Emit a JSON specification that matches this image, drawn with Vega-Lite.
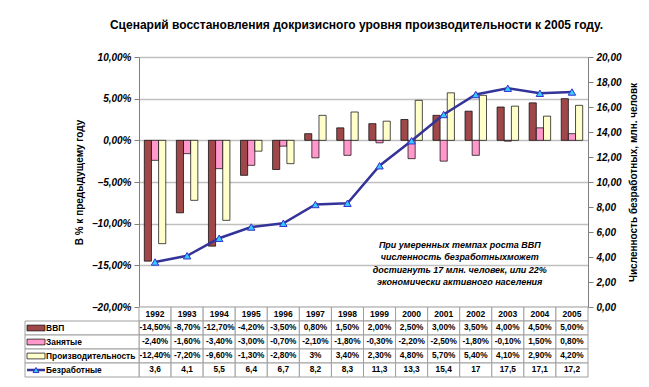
{
  "$schema": "https://vega.github.io/schema/vega-lite/v6.json",
  "width": 563,
  "height": 320,
  "autosize": {"type": "none"},
  "padding": {"left": 25, "top": 57, "right": 61, "bottom": 10},
  "title": {"text": "Сценарий восстановления докризисного уровня производительности к 2005 году.", "font": "Liberation Sans", "fontSize": 12, "fontWeight": "bold", "anchor": "middle", "frame": "group", "dx": 50, "offset": 20, "color": "#000000"},
  "config": {
    "view": {"stroke": null},
    "font": "Liberation Sans",
    "locale": {"number": {"decimal": ",", "thousands": " ", "grouping": [3], "currency": ["", ""]}}
  },
  "datasets": {
    "d": [
      {"year": "1992", "series": "ВВП", "value": -0.145, "txt": "-14,50%"},
      {"year": "1993", "series": "ВВП", "value": -0.087, "txt": "-8,70%"},
      {"year": "1994", "series": "ВВП", "value": -0.127, "txt": "-12,70%"},
      {"year": "1995", "series": "ВВП", "value": -0.042, "txt": "-4,20%"},
      {"year": "1996", "series": "ВВП", "value": -0.035, "txt": "-3,50%"},
      {"year": "1997", "series": "ВВП", "value": 0.008, "txt": "0,80%"},
      {"year": "1998", "series": "ВВП", "value": 0.015, "txt": "1,50%"},
      {"year": "1999", "series": "ВВП", "value": 0.02, "txt": "2,00%"},
      {"year": "2000", "series": "ВВП", "value": 0.025, "txt": "2,50%"},
      {"year": "2001", "series": "ВВП", "value": 0.03, "txt": "3,00%"},
      {"year": "2002", "series": "ВВП", "value": 0.035, "txt": "3,50%"},
      {"year": "2003", "series": "ВВП", "value": 0.04, "txt": "4,00%"},
      {"year": "2004", "series": "ВВП", "value": 0.045, "txt": "4,50%"},
      {"year": "2005", "series": "ВВП", "value": 0.05, "txt": "5,00%"},
      {"year": "1992", "series": "Занятые", "value": -0.024, "txt": "-2,40%"},
      {"year": "1993", "series": "Занятые", "value": -0.016, "txt": "-1,60%"},
      {"year": "1994", "series": "Занятые", "value": -0.034, "txt": "-3,40%"},
      {"year": "1995", "series": "Занятые", "value": -0.03, "txt": "-3,00%"},
      {"year": "1996", "series": "Занятые", "value": -0.007, "txt": "-0,70%"},
      {"year": "1997", "series": "Занятые", "value": -0.021, "txt": "-2,10%"},
      {"year": "1998", "series": "Занятые", "value": -0.018, "txt": "-1,80%"},
      {"year": "1999", "series": "Занятые", "value": -0.003, "txt": "-0,30%"},
      {"year": "2000", "series": "Занятые", "value": -0.022, "txt": "-2,20%"},
      {"year": "2001", "series": "Занятые", "value": -0.025, "txt": "-2,50%"},
      {"year": "2002", "series": "Занятые", "value": -0.018, "txt": "-1,80%"},
      {"year": "2003", "series": "Занятые", "value": -0.001, "txt": "-0,10%"},
      {"year": "2004", "series": "Занятые", "value": 0.015, "txt": "1,50%"},
      {"year": "2005", "series": "Занятые", "value": 0.008, "txt": "0,80%"},
      {"year": "1992", "series": "Производительность", "value": -0.124, "txt": "-12,40%"},
      {"year": "1993", "series": "Производительность", "value": -0.072, "txt": "-7,20%"},
      {"year": "1994", "series": "Производительность", "value": -0.096, "txt": "-9,60%"},
      {"year": "1995", "series": "Производительность", "value": -0.013, "txt": "-1,30%"},
      {"year": "1996", "series": "Производительность", "value": -0.028, "txt": "-2,80%"},
      {"year": "1997", "series": "Производительность", "value": 0.03, "txt": "3%"},
      {"year": "1998", "series": "Производительность", "value": 0.034, "txt": "3,40%"},
      {"year": "1999", "series": "Производительность", "value": 0.023, "txt": "2,30%"},
      {"year": "2000", "series": "Производительность", "value": 0.048, "txt": "4,80%"},
      {"year": "2001", "series": "Производительность", "value": 0.057, "txt": "5,70%"},
      {"year": "2002", "series": "Производительность", "value": 0.054, "txt": "5,40%"},
      {"year": "2003", "series": "Производительность", "value": 0.041, "txt": "4,10%"},
      {"year": "2004", "series": "Производительность", "value": 0.029, "txt": "2,90%"},
      {"year": "2005", "series": "Производительность", "value": 0.042, "txt": "4,20%"},
      {"year": "1992", "series": "Безработные", "value": 3.6, "txt": "3,6"},
      {"year": "1993", "series": "Безработные", "value": 4.1, "txt": "4,1"},
      {"year": "1994", "series": "Безработные", "value": 5.5, "txt": "5,5"},
      {"year": "1995", "series": "Безработные", "value": 6.4, "txt": "6,4"},
      {"year": "1996", "series": "Безработные", "value": 6.7, "txt": "6,7"},
      {"year": "1997", "series": "Безработные", "value": 8.2, "txt": "8,2"},
      {"year": "1998", "series": "Безработные", "value": 8.3, "txt": "8,3"},
      {"year": "1999", "series": "Безработные", "value": 11.3, "txt": "11,3"},
      {"year": "2000", "series": "Безработные", "value": 13.3, "txt": "13,3"},
      {"year": "2001", "series": "Безработные", "value": 15.4, "txt": "15,4"},
      {"year": "2002", "series": "Безработные", "value": 17, "txt": "17"},
      {"year": "2003", "series": "Безработные", "value": 17.5, "txt": "17,5"},
      {"year": "2004", "series": "Безработные", "value": 17.1, "txt": "17,1"},
      {"year": "2005", "series": "Безработные", "value": 17.2, "txt": "17,2"}
    ]
  },
  "data": {"name": "d"},
  "resolve": {"scale": {"x": "independent", "y": "independent"}},
  "layer": [
    {
      "transform": [{"filter": "datum.series !== 'Безработные'"}],
      "mark": {"type": "bar", "stroke": "#000000", "strokeWidth": 0.7},
      "encoding": {
        "x": {"field": "year", "type": "nominal", "scale": {"type": "band", "domain": ["1992","1993","1994","1995","1996","1997","1998","1999","2000","2001","2002","2003","2004","2005"], "range": [114, 563], "paddingInner": 0, "paddingOuter": 0}, "axis": null},
        "xOffset": {"field": "series", "type": "nominal", "scale": {"domain": ["ВВП", "Занятые", "Производительность"], "paddingInner": 0, "paddingOuter": 0.74}},
        "y": {"field": "value", "type": "quantitative", "scale": {"domain": [-0.2, 0.1], "range": [250, 0]},
          "axis": {"orient": "left", "offset": -114, "values": [-0.2, -0.15, -0.1, -0.05, 0, 0.05, 0.1], "format": ".2%", "grid": true, "gridColor": "#C0C0C0", "gridWidth": 1.5, "domainColor": "#808080", "tickColor": "#808080", "tickSize": 5, "labelFont": "Liberation Sans", "labelFontSize": 10, "labelFontStyle": "italic", "labelFontWeight": "bold", "labelColor": "#000000", "labelPadding": 3, "title": "В % к предыдущему году", "titleFont": "Liberation Sans", "titleFontSize": 10, "titleFontWeight": "bold", "titleColor": "#000000", "titlePadding": 7}},
        "color": {"field": "series", "type": "nominal", "scale": {"domain": ["ВВП", "Занятые", "Производительность"], "range": ["#A0474A", "#FF99CC", "#FFFFCC"]}, "legend": null}
      }
    },
    {
      "data": {"values": [{"note": ["При умеренных темпах роста ВВП", "численность безработныхможет", "достигнуть 17 млн. человек, или 22%", "экономически активного населения"]}]},
      "mark": {"type": "text", "font": "Liberation Sans", "fontSize": 9, "fontWeight": "bold", "fontStyle": "italic", "lineHeight": 12.5, "align": "center", "baseline": "middle", "dx": -16, "color": "#000000"},
      "encoding": {
        "x": {"datum": "2002", "type": "nominal", "scale": {"type": "band", "domain": ["1992","1993","1994","1995","1996","1997","1998","1999","2000","2001","2002","2003","2004","2005"], "range": [114, 563], "paddingInner": 0, "paddingOuter": 0}, "axis": null},
        "y": {"datum": -0.125, "type": "quantitative", "scale": {"domain": [-0.2, 0.1], "range": [250, 0]}, "axis": null},
        "text": {"field": "note"}
      }
    },
    {
      "transform": [{"filter": "datum.series === 'Безработные'"}],
      "mark": {"type": "line", "stroke": "#333399", "strokeWidth": 2.5, "point": {"shape": "triangle-up", "filled": true, "fill": "#33CCFF", "stroke": "#3333CC", "strokeWidth": 1, "size": 55}},
      "encoding": {
        "x": {"field": "year", "type": "nominal", "scale": {"type": "band", "domain": ["1992","1993","1994","1995","1996","1997","1998","1999","2000","2001","2002","2003","2004","2005"], "range": [114, 563], "paddingInner": 0, "paddingOuter": 0}, "axis": null},
        "y": {"field": "value", "type": "quantitative", "scale": {"domain": [0, 20], "range": [250, 0]},
          "axis": {"orient": "right", "values": [0, 2, 4, 6, 8, 10, 12, 14, 16, 18, 20], "format": ".2f", "grid": false, "domainColor": "#808080", "tickColor": "#808080", "tickSize": 5, "labelFont": "Liberation Sans", "labelFontSize": 10, "labelFontStyle": "italic", "labelFontWeight": "bold", "labelColor": "#000000", "labelPadding": 3, "title": "Численность безработных, млн. человк", "titleAngle": 270, "titleBaseline": "top", "titleFont": "Liberation Sans", "titleFontSize": 10, "titleFontWeight": "bold", "titleColor": "#000000", "titlePadding": 7}}
      }
    },
    {
      "transform": [{"filter": "datum.series === 'ВВП'"}],
      "mark": {"type": "rect", "fill": "#FFFFFF", "stroke": "#A0A0A0", "strokeWidth": 1},
      "encoding": {
        "x": {"field": "year", "type": "nominal", "scale": {"type": "band", "domain": ["1992","1993","1994","1995","1996","1997","1998","1999","2000","2001","2002","2003","2004","2005"], "range": [114, 563], "paddingInner": 0, "paddingOuter": 0}, "axis": null},
        "y": {"datum": "hdr", "type": "nominal", "scale": {"type": "band", "domain": ["hdr", "ВВП", "Занятые", "Производительность", "Безработные"], "range": [250, 320], "paddingInner": 0, "paddingOuter": 0}, "axis": null}
      }
    },
    {
      "transform": [{"filter": "datum.series === 'ВВП'"}],
      "mark": {"type": "text", "font": "Liberation Sans", "fontSize": 8.5, "fontWeight": "bold", "align": "center", "baseline": "middle", "color": "#000000"},
      "encoding": {
        "x": {"field": "year", "type": "nominal", "scale": {"type": "band", "domain": ["1992","1993","1994","1995","1996","1997","1998","1999","2000","2001","2002","2003","2004","2005"], "range": [114, 563], "paddingInner": 0, "paddingOuter": 0}, "axis": null},
        "y": {"datum": "hdr", "type": "nominal", "scale": {"type": "band", "domain": ["hdr", "ВВП", "Занятые", "Производительность", "Безработные"], "range": [250, 320], "paddingInner": 0, "paddingOuter": 0}, "axis": null},
        "text": {"field": "year"}
      }
    },
    {
      "mark": {"type": "rect", "fill": "#FFFFFF", "stroke": "#A0A0A0", "strokeWidth": 1},
      "encoding": {
        "x": {"field": "year", "type": "nominal", "scale": {"type": "band", "domain": ["1992","1993","1994","1995","1996","1997","1998","1999","2000","2001","2002","2003","2004","2005"], "range": [114, 563], "paddingInner": 0, "paddingOuter": 0}, "axis": null},
        "y": {"field": "series", "type": "nominal", "scale": {"type": "band", "domain": ["hdr", "ВВП", "Занятые", "Производительность", "Безработные"], "range": [250, 320], "paddingInner": 0, "paddingOuter": 0}, "axis": null}
      }
    },
    {
      "mark": {"type": "text", "font": "Liberation Sans", "fontSize": 8.3, "fontWeight": "bold", "align": "center", "baseline": "middle", "color": "#000000"},
      "encoding": {
        "x": {"field": "year", "type": "nominal", "scale": {"type": "band", "domain": ["1992","1993","1994","1995","1996","1997","1998","1999","2000","2001","2002","2003","2004","2005"], "range": [114, 563], "paddingInner": 0, "paddingOuter": 0}, "axis": null},
        "y": {"field": "series", "type": "nominal", "scale": {"type": "band", "domain": ["hdr", "ВВП", "Занятые", "Производительность", "Безработные"], "range": [250, 320], "paddingInner": 0, "paddingOuter": 0}, "axis": null},
        "text": {"field": "txt"}
      }
    },
    {
      "transform": [{"filter": "datum.year === '1992'"}],
      "mark": {"type": "rect", "fill": "#FFFFFF", "stroke": "#A0A0A0", "strokeWidth": 1},
      "encoding": {
        "x": {"datum": 0, "type": "quantitative", "scale": {"domain": [0, 1], "range": [0, 114]}, "axis": null},
        "x2": {"datum": 1},
        "y": {"field": "series", "type": "nominal", "scale": {"type": "band", "domain": ["hdr", "ВВП", "Занятые", "Производительность", "Безработные"], "range": [250, 320], "paddingInner": 0, "paddingOuter": 0}, "axis": null}
      }
    },
    {
      "transform": [{"filter": "datum.year === '1992' && datum.series !== 'Безработные'"}],
      "mark": {"type": "point", "shape": "M-1,-0.32H1V0.32H-1Z", "size": 324, "filled": true, "opacity": 1, "stroke": "#000000", "strokeWidth": 0.7},
      "encoding": {
        "x": {"datum": 0.0965, "type": "quantitative", "scale": {"domain": [0, 1], "range": [0, 114]}, "axis": null},
        "y": {"field": "series", "type": "nominal", "scale": {"type": "band", "domain": ["hdr", "ВВП", "Занятые", "Производительность", "Безработные"], "range": [250, 320], "paddingInner": 0, "paddingOuter": 0}, "axis": null},
        "fill": {"field": "series", "type": "nominal", "scale": {"domain": ["ВВП", "Занятые", "Производительность"], "range": ["#A0474A", "#FF99CC", "#FFFFCC"]}, "legend": null}
      }
    },
    {
      "transform": [{"filter": "datum.year === '1992' && datum.series === 'Безработные'"}],
      "mark": {"type": "point", "shape": "M-1,0H1", "size": 324, "filled": false, "opacity": 1, "stroke": "#333399", "strokeWidth": 2.5},
      "encoding": {
        "x": {"datum": 0.0965, "type": "quantitative", "scale": {"domain": [0, 1], "range": [0, 114]}, "axis": null},
        "y": {"field": "series", "type": "nominal", "scale": {"type": "band", "domain": ["hdr", "ВВП", "Занятые", "Производительность", "Безработные"], "range": [250, 320], "paddingInner": 0, "paddingOuter": 0}, "axis": null}
      }
    },
    {
      "transform": [{"filter": "datum.year === '1992' && datum.series === 'Безработные'"}],
      "mark": {"type": "point", "shape": "triangle-up", "size": 35, "filled": true, "opacity": 1, "fill": "#33CCFF", "stroke": "#3333CC", "strokeWidth": 1},
      "encoding": {
        "x": {"datum": 0.0965, "type": "quantitative", "scale": {"domain": [0, 1], "range": [0, 114]}, "axis": null},
        "y": {"field": "series", "type": "nominal", "scale": {"type": "band", "domain": ["hdr", "ВВП", "Занятые", "Производительность", "Безработные"], "range": [250, 320], "paddingInner": 0, "paddingOuter": 0}, "axis": null}
      }
    },
    {
      "transform": [{"filter": "datum.year === '1992'"}],
      "mark": {"type": "text", "font": "Liberation Sans", "fontSize": 8.4, "fontWeight": "bold", "align": "left", "baseline": "middle", "color": "#000000"},
      "encoding": {
        "x": {"datum": 0.185, "type": "quantitative", "scale": {"domain": [0, 1], "range": [0, 114]}, "axis": null},
        "y": {"field": "series", "type": "nominal", "scale": {"type": "band", "domain": ["hdr", "ВВП", "Занятые", "Производительность", "Безработные"], "range": [250, 320], "paddingInner": 0, "paddingOuter": 0}, "axis": null},
        "text": {"field": "series"}
      }
    }
  ]
}
